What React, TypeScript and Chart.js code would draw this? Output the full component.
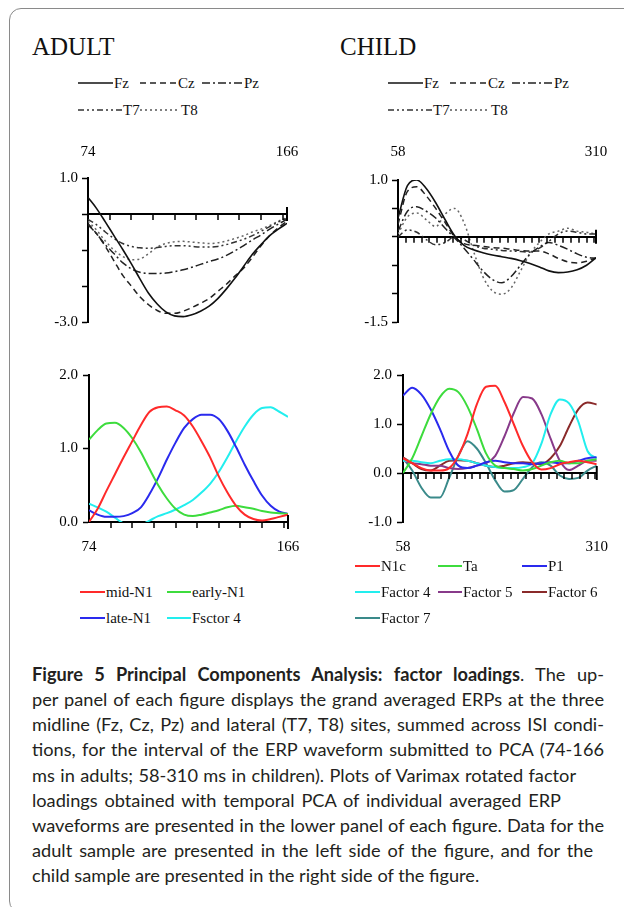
import React, { useEffect, useRef } from "react";
import { Chart, registerables } from "chart.js";
Chart.register(...registerables);

// ---------- DATA ----------
const adultTime = [74, 78, 82, 86, 90, 94, 98, 102, 106, 110, 114, 118, 122, 126, 130, 134, 138, 142, 146, 150, 154, 158, 162, 166];
const adultFz = [0.46, 0.15, -0.22, -0.6, -0.98, -1.38, -1.8, -2.2, -2.5, -2.72, -2.83, -2.85, -2.8, -2.7, -2.56, -2.35, -2.08, -1.78, -1.45, -1.12, -0.85, -0.6, -0.42, -0.26];
const adultCz = [-0.26, -0.55, -0.9, -1.3, -1.7, -2.0, -2.3, -2.52, -2.68, -2.76, -2.76, -2.7, -2.6, -2.48, -2.35, -2.15, -1.95, -1.72, -1.5, -1.2, -0.88, -0.6, -0.38, -0.2];
const adultPz = [-0.3, -0.55, -0.85, -1.1, -1.35, -1.52, -1.62, -1.65, -1.65, -1.64, -1.6, -1.55, -1.48, -1.4, -1.32, -1.25, -1.15, -1.02, -0.88, -0.72, -0.58, -0.42, -0.28, -0.15];
const adultT7 = [-0.15, -0.3, -0.5, -0.68, -0.82, -0.9, -0.94, -0.95, -0.93, -0.9, -0.88, -0.88, -0.9, -0.92, -0.92, -0.9, -0.85, -0.78, -0.7, -0.6, -0.48, -0.35, -0.22, -0.12];
const adultT8 = [-0.2, -0.45, -0.75, -1.0, -1.18, -1.27, -1.25, -1.1, -0.92, -0.82, -0.77, -0.76, -0.78, -0.8, -0.82, -0.8, -0.75, -0.68, -0.6, -0.5, -0.42, -0.32, -0.2, -0.1];

const adultMidN1 = [0.0, 0.18, 0.42, 0.65, 0.88, 1.1, 1.32, 1.5, 1.56, 1.57, 1.52, 1.45, 1.3, 1.1, 0.88, 0.62, 0.4, 0.22, 0.1, 0.04, 0.02, 0.04, 0.07, 0.1];
const adultEarlyN1 = [1.12, 1.25, 1.34, 1.35, 1.28, 1.14, 0.95, 0.72, 0.5, 0.32, 0.18, 0.1, 0.08, 0.1, 0.13, 0.16, 0.2, 0.22, 0.2, 0.18, 0.15, 0.13, 0.12, 0.11];
const adultLateN1 = [0.16, 0.1, 0.07, 0.07, 0.08, 0.12, 0.2, 0.38, 0.6, 0.85, 1.08, 1.28, 1.4, 1.46, 1.46, 1.4, 1.24, 1.02, 0.78, 0.56, 0.36, 0.22, 0.14, 0.11];
const adultFactor4 = [0.25, 0.2, 0.14, 0.06, -0.02, -0.05, -0.04, 0.02, 0.08, 0.12, 0.17, 0.23, 0.3, 0.4, 0.52, 0.68, 0.88, 1.1, 1.3, 1.46, 1.55, 1.56, 1.5, 1.43];

const childTime = [58, 70, 82, 94, 106, 118, 130, 142, 154, 166, 178, 190, 202, 214, 226, 238, 250, 262, 274, 286, 298, 310];
const childFz = [0.33, 0.9, 1.0, 0.85, 0.6, 0.3, 0.02, -0.15, -0.23, -0.28, -0.32, -0.35, -0.38, -0.42, -0.47, -0.53, -0.6, -0.63, -0.62, -0.58, -0.5, -0.37];
const childCz = [0.22, 0.8, 0.88, 0.72, 0.5, 0.25, 0.0, -0.12, -0.15, -0.17, -0.19, -0.2, -0.22, -0.24, -0.25, -0.25, -0.3, -0.38, -0.44, -0.46, -0.43, -0.37];
const childPz = [0.1, 0.45, 0.53, 0.45, 0.33, 0.15, -0.02, -0.2, -0.4, -0.6, -0.75, -0.81, -0.7, -0.5, -0.3, -0.18, -0.1, -0.15, -0.22, -0.3, -0.36, -0.38];
const childT7 = [0.0, 0.12, 0.08, -0.05, -0.14, -0.1, 0.0, -0.05, -0.15, -0.2, -0.22, -0.24, -0.25, -0.26, -0.27, -0.2, -0.08, 0.05, 0.1, 0.08, 0.05, 0.05];
const childT8 = [0.05, 0.35, 0.42, 0.3, 0.18, 0.4, 0.5, 0.25, -0.25, -0.7, -0.95, -1.01, -0.9, -0.6, -0.3, -0.1, 0.05, 0.1, 0.15, 0.1, 0.08, 0.05];

const childN1c = [0.3, 0.2, 0.1, 0.05, 0.05, 0.1, 0.35, 0.8, 1.4, 1.76, 1.78, 1.45, 1.0, 0.55, 0.22, 0.07, 0.1, 0.18, 0.22, 0.25, 0.22, 0.18];
const childTa = [0.0, 0.3, 0.75, 1.2, 1.55, 1.72, 1.65, 1.35, 0.9, 0.4, 0.15, 0.1, 0.08, 0.05, 0.08, 0.15, 0.22, 0.25, 0.2, 0.2, 0.25, 0.28];
const childP1 = [1.58, 1.74, 1.6, 1.3, 0.9, 0.45, 0.15, 0.1, 0.15, 0.22, 0.25, 0.22, 0.2, 0.2, 0.18, 0.2, 0.22, 0.2, 0.2, 0.25, 0.3, 0.32];
const childFactor4 = [0.25, 0.25, 0.22, 0.2, 0.25, 0.28, 0.28, 0.25, 0.2, 0.15, 0.12, 0.1, 0.1, 0.12, 0.2, 0.6, 1.2, 1.5, 1.42, 1.05, 0.45, 0.3];
const childFactor5 = [0.25, 0.2, 0.18, 0.15, 0.15, 0.1, 0.08, 0.1, 0.15, 0.2, 0.35, 0.75, 1.22, 1.55, 1.52, 1.2, 0.7, 0.25, 0.06, 0.15, 0.25, 0.25];
const childFactor6 = [0.32, 0.2, 0.08, 0.05, 0.15, 0.25, 0.26, 0.25, 0.2, 0.15, 0.12, 0.15, 0.2, 0.22, 0.2, 0.18, 0.3, 0.55, 0.95, 1.3, 1.44, 1.4];
const childFactor7 = [0.3, 0.05, -0.3, -0.5, -0.5, -0.1, 0.35, 0.65, 0.5, 0.2, -0.15, -0.38, -0.35, -0.12, 0.12, 0.22, 0.15, -0.05, -0.12, -0.1, 0.05, 0.15];

const adultXTicks = [84, 94, 104, 114, 124, 134, 144, 154, 164];
const childXTicks = [68, 78, 88, 98, 108, 118, 128, 138, 148, 158, 168, 178, 188, 198, 208, 218, 228, 238, 248, 258, 268, 278, 288, 298, 308];
const adultTopYTicks = [1, 0, -1, -2, -3];
const childTopYTicks = [1, 0.5, 0, -0.5, -1, -1.5];
const adultBotYTicks = [2, 1, 0];
const childBotYTicks = [2, 1, 0, -1];

const captionLines = [
  "per panel of each figure displays the grand averaged ERPs at the three",
  "midline (Fz, Cz, Pz) and lateral (T7, T8) sites, summed across ISI condi-",
  "tions, for the interval of the ERP waveform submitted to PCA (74-166",
  "ms in adults; 58-310 ms in children). Plots of Varimax rotated factor",
  "loadings obtained with temporal PCA of individual averaged ERP",
  "waveforms are presented in the lower panel of each figure. Data for the",
  "adult sample are presented in the left side of the figure, and for the",
  "child sample are presented in the right side of the figure.",
];
const captionWidths = [572, 572, 572, 544, 529, 572, 561, 0];

// ---------- STYLES ----------
const SERIF = "'Liberation Serif', 'Times New Roman', serif";
const CAPTION_FONT = "Lato, 'Open Sans', sans-serif";
const CAPTION_SIZE = 18.2;
const DASH = {
  solid: [] as number[],
  dashed: [6, 4],
  dashDot: [8, 3, 2, 3],
  dashDotDot: [6, 3, 2, 3, 2, 3],
  dotted: [2, 3],
};

const pts = (t: number[], v: number[]) => t.map((x, i) => ({ x, y: v[i] }));

// tick marks below the zero line plus the closing bar at the end of the time axis
const axisMarks = {
  id: "axisMarks",
  afterDraw(chart: any, _args: any, opts: any) {
    const xs = chart.scales.x;
    const ys = chart.scales.y;
    const py = ys.getPixelForValue(0);
    const ctx = chart.ctx;
    ctx.save();
    ctx.strokeStyle = "#000";
    ctx.lineWidth = 1.5;
    ctx.beginPath();
    for (const v of opts.values || []) {
      const px = Math.round(xs.getPixelForValue(v));
      ctx.moveTo(px, py);
      ctx.lineTo(px, py + 6);
    }
    ctx.stroke();
    const ex = xs.getPixelForValue(xs.max);
    ctx.lineWidth = 2;
    ctx.beginPath();
    ctx.moveTo(ex, py - 7);
    ctx.lineTo(ex, py + 7);
    ctx.stroke();
    ctx.restore();
  },
};

type Cfg = {
  datasets: any[];
  xMin: number;
  xMax: number;
  yMin: number;
  yMax: number;
  xTicks: number[];
  yTicks: number[];
  yLabels: (v: number) => string;
  labelPos: "top" | "bottom";
  pad: { top: number; right: number; bottom: number };
  yWidth: number;
  yPad: number;
  xLabH: number;
  xLabPad: number;
};

function makeConfig(c: Cfg): any {
  const font = { family: SERIF, size: 15 };
  return {
    type: "line",
    data: { datasets: c.datasets },
    plugins: [axisMarks],
    options: {
      animation: false,
      responsive: false,
      maintainAspectRatio: false,
      devicePixelRatio: 1,
      layout: { padding: { left: 0, top: c.pad.top, right: c.pad.right, bottom: c.pad.bottom } },
      plugins: { legend: { display: false }, tooltip: { enabled: false }, axisMarks: { values: c.xTicks } },
      elements: { point: { radius: 0 }, line: { cubicInterpolationMode: "monotone" } },
      scales: {
        x: {
          type: "linear",
          min: c.xMin,
          max: c.xMax,
          position: { y: 0 },
          ticks: { display: false },
          grid: { drawOnChartArea: false, drawTicks: false },
          border: { display: true, color: "#000", width: 2 },
        },
        xLab: {
          type: "linear",
          axis: "x",
          min: c.xMin,
          max: c.xMax,
          position: c.labelPos,
          afterBuildTicks: (s: any) => {
            s.ticks = [{ value: c.xMin }, { value: c.xMax }];
          },
          afterFit: (s: any) => {
            s.height = c.xLabH;
          },
          ticks: {
            autoSkip: false,
            maxRotation: 0,
            padding: 0,
            color: "#000",
            font,
            callback: (v: any) => String(v),
          },
          grid: { display: false, drawTicks: true, tickLength: c.xLabPad },
          border: { display: false },
        },
        y: {
          type: "linear",
          min: c.yMin,
          max: c.yMax,
          position: "left",
          afterBuildTicks: (s: any) => {
            s.ticks = c.yTicks.map((v) => ({ value: v }));
          },
          afterFit: (s: any) => {
            s.width = c.yWidth;
          },
          ticks: {
            autoSkip: false,
            padding: c.yPad,
            color: "#000",
            font,
            callback: (v: any) => c.yLabels(Number(v)),
          },
          grid: { drawOnChartArea: false, drawTicks: true, tickLength: 6, tickWidth: 1.5, tickColor: "#000" },
          border: { display: true, color: "#000", width: 2 },
        },
      },
    },
  };
}

function ChartBox({ left, top, width, height, cfg }: { left: number; top: number; width: number; height: number; cfg: Cfg }) {
  const ref = useRef<HTMLCanvasElement | null>(null);
  useEffect(() => {
    if (!ref.current) return;
    const ch = new Chart(ref.current, makeConfig(cfg));
    return () => ch.destroy();
  }, []);
  return (
    <canvas
      ref={ref}
      width={width}
      height={height}
      style={{ position: "absolute", left, top, width, height }}
    />
  );
}

const mono = (label: string, t: number[], v: number[], dash: number[], color = "#000", w = 1.5) => ({
  label,
  data: pts(t, v),
  borderColor: color,
  borderWidth: w,
  borderDash: dash,
  fill: false,
});
const colored = (label: string, t: number[], v: number[], color: string) => ({
  label,
  data: pts(t, v),
  borderColor: color,
  borderWidth: 2,
  fill: false,
});

const fmt1 = (v: number) => v.toFixed(1);

const adultTopCfg: Cfg = {
  datasets: [
    mono("Fz", adultTime, adultFz, DASH.solid, "#111", 1.6),
    mono("Cz", adultTime, adultCz, DASH.dashed, "#222"),
    mono("Pz", adultTime, adultPz, DASH.dashDot, "#222"),
    mono("T7", adultTime, adultT7, DASH.dashDotDot, "#333"),
    mono("T8", adultTime, adultT8, DASH.dotted, "#666"),
  ],
  xMin: 74, xMax: 166, yMin: -3, yMax: 1,
  xTicks: adultXTicks, yTicks: adultTopYTicks,
  yLabels: (v) => (v === 1 || v === -3 ? fmt1(v) : ""),
  labelPos: "top",
  pad: { top: 0, right: 13, bottom: 12 },
  yWidth: 58, yPad: 4, xLabH: 43, xLabPad: 17,
};

const childTopCfg: Cfg = {
  datasets: [
    mono("Fz", childTime, childFz, DASH.solid, "#111", 1.6),
    mono("Cz", childTime, childCz, DASH.dashed, "#222"),
    mono("Pz", childTime, childPz, DASH.dashDot, "#222"),
    mono("T7", childTime, childT7, DASH.dashDotDot, "#333"),
    mono("T8", childTime, childT8, DASH.dotted, "#666"),
  ],
  xMin: 58, xMax: 310, yMin: -1.5, yMax: 1,
  xTicks: childXTicks, yTicks: childTopYTicks,
  yLabels: (v) => (v === 1 || v === -1.5 ? fmt1(v) : ""),
  labelPos: "top",
  pad: { top: 0, right: 12, bottom: 12 },
  yWidth: 58, yPad: 4, xLabH: 45, xLabPad: 19,
};

const adultBotCfg: Cfg = {
  datasets: [
    colored("mid-N1", adultTime, adultMidN1, "#ff2a2a"),
    colored("early-N1", adultTime, adultEarlyN1, "#3ddc3d"),
    colored("late-N1", adultTime, adultLateN1, "#2a2aee"),
    colored("Fsctor 4", adultTime, adultFactor4, "#22eeee"),
  ],
  xMin: 74, xMax: 166, yMin: 0, yMax: 2,
  xTicks: adultXTicks, yTicks: adultBotYTicks,
  yLabels: fmt1,
  labelPos: "bottom",
  pad: { top: 15, right: 12, bottom: 0 },
  yWidth: 59, yPad: 5, xLabH: 38, xLabPad: 16,
};

const childBotCfg: Cfg = {
  datasets: [
    colored("N1c", childTime, childN1c, "#ff2a2a"),
    colored("Ta", childTime, childTa, "#3ddc3d"),
    colored("P1", childTime, childP1, "#2a2aee"),
    colored("Factor 4", childTime, childFactor4, "#22eeee"),
    colored("Factor 5", childTime, childFactor5, "#883a8a"),
    colored("Factor 6", childTime, childFactor6, "#8a2a2a"),
    colored("Factor 7", childTime, childFactor7, "#3a8a8a"),
  ],
  xMin: 58, xMax: 310, yMin: -1, yMax: 2,
  xTicks: childXTicks, yTicks: childBotYTicks,
  yLabels: fmt1,
  labelPos: "bottom",
  pad: { top: 15, right: 10, bottom: 0 },
  yWidth: 63, yPad: 5, xLabH: 38, xLabPad: 16,
};

// ---------- LEGEND PIECES ----------
function LegendItem({ x, y, w, dash, color, width, label }: { x: number; y: number; w: number; dash: number[]; color: string; width: number; label: string }) {
  return (
    <div style={{ position: "absolute", left: x, top: y - 10, height: 20, display: "flex", alignItems: "center", whiteSpace: "nowrap" }}>
      <svg width={w} height={20} style={{ display: "block" }}>
        <line x1={0} y1={10} x2={w} y2={10} stroke={color} strokeWidth={width} strokeDasharray={dash.length ? dash.join(",") : undefined} />
      </svg>
      <span style={{ fontFamily: SERIF, fontSize: 15, lineHeight: "20px", color: "#111", marginLeft: 1 }}>{label}</span>
    </div>
  );
}

function SiteLegend({ dx }: { dx: number }) {
  return (
    <>
      <LegendItem x={78 + dx} y={83} w={35} dash={DASH.solid} color="#111" width={1.5} label="Fz" />
      <LegendItem x={140 + dx} y={83} w={37} dash={DASH.dashed} color="#222" width={1.5} label="Cz" />
      <LegendItem x={202 + dx} y={83} w={41} dash={DASH.dashDot} color="#222" width={1.5} label="Pz" />
      <LegendItem x={78 + dx} y={110} w={44} dash={DASH.dashDotDot} color="#333" width={1.5} label="T7" />
      <LegendItem x={140 + dx} y={110} w={40} dash={DASH.dotted} color="#555" width={1.5} label="T8" />
    </>
  );
}

export default function App() {
  const capStyle = {
    position: "absolute" as const,
    left: 32,
    fontFamily: CAPTION_FONT,
    fontSize: CAPTION_SIZE,
    lineHeight: "25px",
    color: "#231f20",
    whiteSpace: "nowrap" as const,
  };
  return (
    <div style={{ position: "absolute", left: 0, top: 0, width: 624, height: 907, overflow: "hidden", background: "#fff" }}>
      <div
        style={{
          position: "absolute",
          left: 9,
          top: 8,
          width: 660,
          height: 905,
          border: "1.5px solid #8a8a8a",
          borderRadius: 12,
          boxSizing: "border-box",
        }}
      />
      <div style={{ position: "absolute", left: 32, top: 33.5, fontFamily: SERIF, fontSize: 25, lineHeight: "25px", color: "#111" }}>ADULT</div>
      <div style={{ position: "absolute", left: 340, top: 33.5, fontFamily: SERIF, fontSize: 25, lineHeight: "25px", color: "#111" }}>CHILD</div>

      <SiteLegend dx={0} />
      <SiteLegend dx={310} />

      <ChartBox left={30} top={135} width={270} height={200} cfg={adultTopCfg} />
      <ChartBox left={340} top={135} width={268} height={200} cfg={childTopCfg} />
      <ChartBox left={30} top={360} width={270} height={200} cfg={adultBotCfg} />
      <ChartBox left={340} top={360} width={268} height={200} cfg={childBotCfg} />

      <LegendItem x={80} y={592} w={25} dash={[]} color="#ff2a2a" width={2} label="mid-N1" />
      <LegendItem x={167} y={592} w={24} dash={[]} color="#3ddc3d" width={2} label="early-N1" />
      <LegendItem x={80} y={618} w={25} dash={[]} color="#2a2aee" width={2} label="late-N1" />
      <LegendItem x={167} y={618} w={24} dash={[]} color="#22eeee" width={2} label="Fsctor 4" />

      <LegendItem x={355} y={566} w={25} dash={[]} color="#ff2a2a" width={2} label="N1c" />
      <LegendItem x={438} y={566} w={24} dash={[]} color="#3ddc3d" width={2} label="Ta" />
      <LegendItem x={522} y={566} w={25} dash={[]} color="#2a2aee" width={2} label="P1" />
      <LegendItem x={355} y={592} w={25} dash={[]} color="#22eeee" width={2} label="Factor 4" />
      <LegendItem x={438} y={592} w={24} dash={[]} color="#883a8a" width={2} label="Factor 5" />
      <LegendItem x={522} y={592} w={25} dash={[]} color="#8a2a2a" width={2} label="Factor 6" />
      <LegendItem x={355} y={618} w={25} dash={[]} color="#3a8a8a" width={2} label="Factor 7" />

      <div style={{ ...capStyle, top: 662, width: 572, textAlign: "justify", textAlignLast: "justify" as any }}>
        <b style={{ fontWeight: 700 }}>Figure 5 Principal Components Analysis: factor loadings</b>. The up-
      </div>
      {captionLines.map((line, i) => (
        <div
          key={i}
          style={{
            ...capStyle,
            top: 687 + i * 25.2,
            width: captionWidths[i] || undefined,
            textAlign: captionWidths[i] ? ("justify" as any) : "left",
            textAlignLast: captionWidths[i] ? ("justify" as any) : ("left" as any),
          }}
        >
          {line}
        </div>
      ))}
    </div>
  );
}
